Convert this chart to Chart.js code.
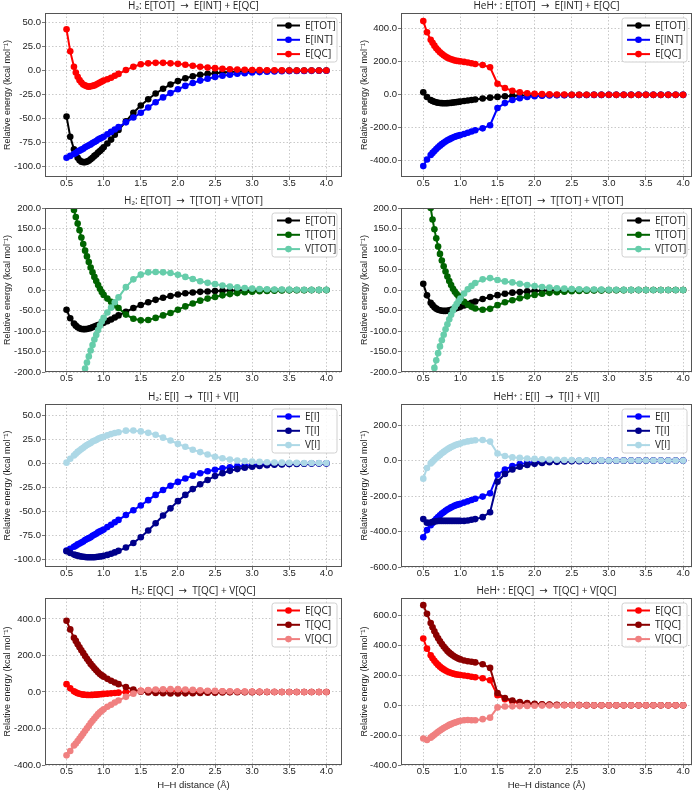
<!DOCTYPE html>
<html>
<head>
<meta charset="utf-8">
<script src="https://cdn.jsdelivr.net/npm/chart.js@4.4.0/dist/chart.umd.min.js"></script>
<style>
  html, body { margin: 0; padding: 0; background: #fff; }
  #page { position: relative; width: 700px; height: 791px; overflow: hidden; }
  #page canvas { position: absolute; }
</style>
</head>
<body>
<div id="page"></div>
<script>
// bond distance (Å), dense sampling near the minimum
var distance = [0.5, 0.55, 0.6, 0.625, 0.65, 0.675, 0.7, 0.725, 0.75, 0.775, 0.8, 0.825, 0.85, 0.875, 0.9, 0.925, 0.95, 0.975, 1.0, 1.05, 1.1, 1.15, 1.2, 1.3, 1.4,
    1.5, 1.6, 1.7, 1.8, 1.9, 2.0, 2.1, 2.2, 2.3, 2.4, 2.5, 2.6, 2.7, 2.8, 2.9, 3.0, 3.1, 3.2, 3.3, 3.4, 3.5, 3.6, 3.7, 3.8, 3.9, 4.0];
var xTicks = [0.5, 1.0, 1.5, 2.0, 2.5, 3.0, 3.5, 4.0];

// H2 (kcal/mol)
var h2_E_TOT = [-48, -69, -82, -87, -91, -93.5, -95, -95.5, -95.5, -95, -94, -92.5, -91, -89, -87.5, -85.5, -84, -82, -80, -76, -72, -67, -62, -53, -44,
    -36.5, -30, -24, -19, -14.5, -11, -8, -6, -4.5, -3.5, -2.7, -2, -1.5, -1.1, -0.8, -0.6, -0.4, -0.3, -0.2, -0.15, -0.1, -0.1, -0.1, 0, 0, 0];
var h2_E_INT = [-91, -89, -87, -86, -84.5, -83.5, -82.5, -81.5, -80, -79, -78, -77, -75.5, -74.5, -73.5, -72, -71, -70, -69, -66.5, -64, -61.5, -59, -54, -49,
    -44, -38.5, -33, -28, -23.5, -19.5, -16, -13, -10.5, -8.5, -6.8, -5.4, -4.3, -3.4, -2.7, -2.1, -1.6, -1.3, -1.0, -0.8, -0.6, -0.5, -0.4, -0.3, -0.2, -0.2];
var h2_E_QC = [43, 20, 4, -2, -6.5, -10, -12.5, -14.5, -15.5, -16.5, -16.8, -16.5, -16, -15.5, -14.5, -13.5, -12.5, -11.5, -10.5, -9, -7.5, -5.5, -3.5, 0.5, 4,
    6.5, 7.5, 8, 8, 7.5, 7, 6, 5, 4, 3.2, 2.5, 1.9, 1.4, 1, 0.7, 0.5, 0.4, 0.3, 0.2, 0.15, 0.1, 0.1, 0.1, 0.05, 0, 0];
var h2_T_TOT = [380, 270, 195, 178, 162, 146, 128, 112, 96, 82, 68, 55, 43, 32, 22, 12, 3, -5, -12, -21, -29, -37, -44, -60, -70,
    -74, -73, -68, -62, -56, -48, -40, -33, -26, -21, -17, -13, -10, -7.5, -5.5, -4, -3, -2.2, -1.6, -1.2, -0.9, -0.6, -0.5, -0.3, -0.2, -0.2];
var h2_V_TOT = [-428, -339, -277, -265, -253, -239.5, -223, -207.5, -191.5, -177, -162, -147.5, -134, -121, -109.5, -97.5, -87, -77, -68, -55, -43, -30, -18, 7, 26,
    37.5, 43, 44, 43, 41.5, 37, 32, 27, 21.5, 17.5, 14.3, 11, 8.5, 6.4, 4.7, 3.4, 2.6, 1.9, 1.4, 1.05, 0.8, 0.5, 0.4, 0.3, 0.2, 0.2];
var h2_T_I = [-91.5, -93.5, -95, -95.7, -96.2, -96.7, -97.1, -97.4, -97.6, -97.8, -97.9, -97.9, -97.9, -97.8, -97.6, -97.4, -97.1, -96.8, -96.4, -95.4, -94.2, -92.8, -91.2, -87.8, -83,
    -77, -70, -62.5, -54.5, -47, -39.5, -33, -27, -22, -17.5, -13.5, -10.5, -8, -6.2, -4.8, -3.7, -2.9, -2.2, -1.7, -1.3, -1.0, -0.8, -0.6, -0.5, -0.4, -0.3];
var h2_V_I = [0.5, 4.5, 8, 9.7, 11.7, 13.2, 14.6, 15.9, 17.6, 18.8, 19.9, 20.9, 22.4, 23.3, 24.1, 25.4, 26.1, 26.8, 27.4, 28.9, 30.2, 31.3, 32.2, 33.8, 34,
    33, 31.5, 29.5, 26.5, 23.5, 20, 17, 14, 11.5, 9, 6.7, 5.1, 3.7, 2.8, 2.1, 1.6, 1.3, 0.9, 0.7, 0.5, 0.4, 0.3, 0.2, 0.2, 0.2, 0.1];
var h2_T_QC = [390, 343, 297, 280, 262, 245, 229, 213, 197, 182, 168, 154, 142, 130, 119, 108, 99, 91, 84, 72, 62, 52, 43, 27, 13,
    2, -3, -5.5, -7, -8, -8.5, -7.5, -6.5, -5, -4, -3.5, -2.5, -2, -1.5, -1.1, -0.8, -0.6, -0.4, -0.3, -0.2, -0.2, -0.1, -0.1, 0, 0, 0];
var h2_V_QC = [-347, -323, -293, -282, -268.5, -255, -241.5, -227.5, -212.5, -198.5, -184.8, -170.5, -158, -145.5, -133.5, -121.5, -111.5, -102.5, -94.5, -81, -69.5, -57.5, -46.5, -26.5, -9,
    4.5, 10.5, 13.5, 15, 15.5, 15.5, 13.5, 11.5, 9, 7.2, 6, 4.4, 3.4, 2.5, 1.8, 1.3, 1.0, 0.7, 0.5, 0.35, 0.3, 0.2, 0.2, 0.1, 0.1, 0];

// HeH+ (kcal/mol)
var heh_E_TOT = [15, -13, -31, -37, -42, -45.5, -48, -49.5, -50.5, -51, -51, -50.5, -49.5, -48.5, -47, -45.5, -44, -42.5, -41, -37.5, -34, -31, -28, -22, -17,
    -12.5, -9, -6.5, -4.7, -3.4, -2.5, -1.8, -1.3, -1, -0.7, -0.5, -0.4, -0.3, -0.2, -0.2, -0.1, -0.1, -0.1, -0.1, 0, 0, 0, 0, 0, 0, 0];
var heh_E_INT = [-432, -392, -365, -352, -340, -328, -318, -308, -299, -291, -283, -276, -270, -264, -259, -254, -250, -247, -244, -237, -230, -222, -215, -203, -184,
    -80, -50, -31, -20, -13, -9, -6, -4, -2.8, -2, -1.4, -1, -0.7, -0.5, -0.3, -0.2, -0.1, -0.1, -0.1, 0, 0, 0, 0, 0, 0, 0];
var heh_E_QC = [447, 379, 334, 315, 298, 282.5, 270, 258.5, 248.5, 240, 232, 225.5, 220.5, 215.5, 212, 208.5, 206, 204.5, 203, 199.5, 196, 191, 187, 181, 167,
    67.5, 41, 24.5, 15.3, 9.6, 6.5, 4.2, 2.7, 1.8, 1.3, 0.9, 0.6, 0.4, 0.3, 0.1, 0.1, 0, 0, 0, 0, 0, 0, 0, 0, 0, 0];
var heh_T_TOT = [420, 290, 200, 172, 148, 126, 106, 88, 72, 58, 45, 33, 22, 12, 3, -4, -10, -15, -20, -29, -36, -41, -45, -48, -46,
    -37, -30, -25, -20, -15.5, -12, -9, -7, -5.3, -4, -3, -2.3, -1.7, -1.3, -1, -0.7, -0.5, -0.4, -0.3, -0.2, -0.2, -0.1, -0.1, -0.1, -0.1, 0];
var heh_V_TOT = [-405, -303, -231, -209, -190, -171.5, -154, -137.5, -122.5, -109, -96, -83.5, -71.5, -60.5, -50, -41.5, -34, -27.5, -21, -8.5, 2, 10, 17, 26, 29,
    24.5, 21, 18.5, 15.3, 12.1, 9.5, 7.2, 5.7, 4.3, 3.3, 2.5, 1.9, 1.4, 1.1, 0.8, 0.6, 0.4, 0.3, 0.2, 0.2, 0.1, 0.1, 0.1, 0.1, 0.1, 0];
var heh_T_I = [-330, -350, -349, -346, -344, -342, -341, -340, -340, -340, -340, -340, -340, -340, -340, -340, -340, -340, -340, -340, -338, -334, -330, -319, -291,
    -120, -76, -50, -35, -25, -18.5, -13.4, -9.8, -7.3, -5.5, -4.1, -3.1, -2.3, -1.7, -1.2, -0.9, -0.6, -0.5, -0.4, -0.3, -0.2, -0.1, -0.1, -0.1, 0, 0];
var heh_V_I = [-102, -42, -16, -6, 4, 14, 23, 32, 41, 49, 57, 64, 70, 76, 81, 86, 90, 93, 96, 103, 108, 112, 115, 116, 107,
    40, 26, 19, 15, 12, 9.5, 7.4, 5.8, 4.5, 3.5, 2.7, 2.1, 1.6, 1.2, 0.9, 0.7, 0.5, 0.4, 0.3, 0.2, 0.2, 0.1, 0.1, 0.1, 0, 0];
var heh_T_QC = [670, 612, 551, 522, 495, 470, 448, 428, 410, 393, 378, 364, 352, 342, 333, 325, 318, 312, 307, 300, 295, 291, 287, 274, 250,
    82, 49, 32, 21, 14, 9.5, 6.5, 4.5, 3, 2.1, 1.5, 1, 0.7, 0.5, 0.3, 0.2, 0.1, 0.1, 0, 0, 0, 0, 0, 0, 0, 0];
var heh_V_QC = [-223, -233, -217, -207, -197, -187.5, -178, -169.5, -161.5, -153, -146, -138.5, -131.5, -126.5, -121, -116.5, -112, -107.5, -104, -100.5, -99, -100, -100, -93, -83,
    -14.5, -8, -7.5, -5.7, -4.4, -3, -2.3, -1.8, -1.2, -0.8, -0.6, -0.4, -0.3, -0.2, -0.2, -0.1, -0.1, -0.1, 0, 0, 0, 0, 0, 0, 0, 0];

// y tick labels per panel
var yTicks_h2_E = [-100, -75, -50, -25, 0, 25, 50];
var yTicks_heh_E = [-400, -200, 0, 200, 400];
var yTicks_TOT = [-200, -150, -100, -50, 0, 50, 100, 150, 200];
var yTicks_h2_I = [-100, -75, -50, -25, 0, 25, 50];
var yTicks_heh_I = [-600, -400, -200, 0, 200];
var yTicks_h2_QC = [-400, -200, 0, 200, 400];
var yTicks_heh_QC = [-400, -200, 0, 200, 400, 600];


var fontFamily = "'Open Sans', 'DejaVu Sans', sans-serif";
var H2 = 'H\u2082', HEH = 'HeH\u207A ';
var ARROW = '  \u2192  ';

var panels = [
    { row: 0, col: 0, title: H2 + ': E[TOT]' + ARROW + 'E[INT] + E[QC]', y: [-111, 60], ticks: yTicks_h2_E,
        series: [['E[TOT]', h2_E_TOT, '#000000'], ['E[INT]', h2_E_INT, '#0000ff'], ['E[QC]', h2_E_QC, '#ff0000']] },
    { row: 0, col: 1, title: HEH + ': E[TOT]' + ARROW + 'E[INT] + E[QC]', y: [-498, 496], ticks: yTicks_heh_E,
        series: [['E[TOT]', heh_E_TOT, '#000000'], ['E[INT]', heh_E_INT, '#0000ff'], ['E[QC]', heh_E_QC, '#ff0000']] },
    { row: 1, col: 0, title: H2 + ': E[TOT]' + ARROW + 'T[TOT] + V[TOT]', y: [-200, 200], ticks: yTicks_TOT,
        series: [['E[TOT]', h2_E_TOT, '#000000'], ['T[TOT]', h2_T_TOT, '#006400'], ['V[TOT]', h2_V_TOT, '#66cdaa']] },
    { row: 1, col: 1, title: HEH + ': E[TOT]' + ARROW + 'T[TOT] + V[TOT]', y: [-200, 200], ticks: yTicks_TOT,
        series: [['E[TOT]', heh_E_TOT, '#000000'], ['T[TOT]', heh_T_TOT, '#006400'], ['V[TOT]', heh_V_TOT, '#66cdaa']] },
    { row: 2, col: 0, title: H2 + ': E[I]' + ARROW + 'T[I] + V[I]', y: [-108, 61.5], ticks: yTicks_h2_I,
        series: [['E[I]', h2_E_INT, '#0000ff'], ['T[I]', h2_T_I, '#00008b'], ['V[I]', h2_V_I, '#add8e6']] },
    { row: 2, col: 1, title: HEH + ': E[I]' + ARROW + 'T[I] + V[I]', y: [-600, 319], ticks: yTicks_heh_I,
        series: [['E[I]', heh_E_INT, '#0000ff'], ['T[I]', heh_T_I, '#00008b'], ['V[I]', heh_V_I, '#add8e6']] },
    { row: 3, col: 0, title: H2 + ': E[QC]' + ARROW + 'T[QC] + V[QC]', y: [-400, 515], ticks: yTicks_h2_QC,
        series: [['E[QC]', h2_E_QC, '#ff0000'], ['T[QC]', h2_T_QC, '#8b0000'], ['V[QC]', h2_V_QC, '#f08080']] },
    { row: 3, col: 1, title: HEH + ': E[QC]' + ARROW + 'T[QC] + V[QC]', y: [-400, 718], ticks: yTicks_heh_QC,
        series: [['E[QC]', heh_E_QC, '#ff0000'], ['T[QC]', heh_T_QC, '#8b0000'], ['V[QC]', heh_V_QC, '#f08080']] }
];

// page layout
var rowTop = [0, 195, 391, 585];
var rowHeight = [195, 195, 195, 206];
var frameHeight = [164, 164, 163, 167];
var axisWidth = [45, 51];
var yTitlePad = [2, 9.6];
var xRange = [[0.21, 4.21], [0.2, 4.12]];
var xTitle = ['H\u2013H distance (\u00C5)', 'He\u2013H distance (\u00C5)'];
var gridColor = 'rgba(170,170,170,0.8)';


var framePlugin = {
    id: 'frameLegend',
    afterDatasetsDraw: function (chart) {
        var a = chart.chartArea;
        var ctx = chart.ctx;
        ctx.save();
        ctx.strokeStyle = '#555';
        ctx.lineWidth = 1;
        ctx.strokeRect(Math.round(a.left) + 0.5, Math.round(a.top) + 0.5,
            Math.round(a.right - a.left) - 1, Math.round(a.bottom - a.top) - 1);
        ctx.restore();
    },
    afterDraw: function (chart) {
        var a = chart.chartArea;
        var ctx = chart.ctx;
        var sets = chart.data.datasets;
        var w = 65, h = 44;
        var bx = a.right - 5 - w, by = a.top + 5;

        ctx.save();
        // title
        ctx.fillStyle = '#222';
        ctx.font = '10px ' + fontFamily;
        ctx.textAlign = 'center';
        ctx.textBaseline = 'middle';
        ctx.fillText(chart.options.panelTitle, (a.left + a.right) / 2, a.top - 7);

        // legend box
        var r = 2.5;
        ctx.beginPath();
        ctx.moveTo(bx + r, by);
        ctx.lineTo(bx + w - r, by);
        ctx.arcTo(bx + w, by, bx + w, by + r, r);
        ctx.lineTo(bx + w, by + h - r);
        ctx.arcTo(bx + w, by + h, bx + w - r, by + h, r);
        ctx.lineTo(bx + r, by + h);
        ctx.arcTo(bx, by + h, bx, by + h - r, r);
        ctx.lineTo(bx, by + r);
        ctx.arcTo(bx, by, bx + r, by, r);
        ctx.closePath();
        ctx.fillStyle = 'rgba(255,255,255,0.85)';
        ctx.fill();
        ctx.strokeStyle = '#d0d0d0';
        ctx.lineWidth = 1;
        ctx.stroke();

        ctx.font = '10px ' + fontFamily;
        ctx.textAlign = 'left';
        sets.forEach(function (ds, i) {
            var y = by + 7.5 + i * 14.3;
            ctx.strokeStyle = ds.borderColor;
            ctx.lineWidth = 2;
            ctx.beginPath();
            ctx.moveTo(bx + 5, y);
            ctx.lineTo(bx + 28, y);
            ctx.stroke();
            ctx.fillStyle = ds.borderColor;
            ctx.beginPath();
            ctx.arc(bx + 16.5, y, 3.3, 0, Math.PI * 2);
            ctx.fill();
            ctx.fillStyle = '#222';
            ctx.fillText(ds.label, bx + 33, y + 0.5);
        });
        ctx.restore();
    }
};


var page = document.getElementById('page');

panels.forEach(function (p) {
    var canvas = document.createElement('canvas');
    canvas.width = 350;
    canvas.height = rowHeight[p.row];
    canvas.style.left = (p.col * 350) + 'px';
    canvas.style.top = rowTop[p.row] + 'px';
    page.appendChild(canvas);

    var xAxisHeight = rowHeight[p.row] - 13 - frameHeight[p.row];
    var last = p.row == 3;

    var sets = p.series.map(function (s, idx) {
        return {
            'label': s[0],
            'data': distance.map(function (x, i) {
                return { x: x, y: s[1][i] };
            }),
            'borderColor': s[2],
            'backgroundColor': s[2],
            'pointBackgroundColor': s[2],
            'order': 3 - idx,
        };
    });

    new Chart(canvas.getContext('2d'), {
        type: 'line',
        data: { 'datasets': sets },
        plugins: [framePlugin],
        options: {
            panelTitle: p.title,
            responsive: false,
            animation: false,
            devicePixelRatio: 1,
            layout: { padding: { top: 13, right: 8, left: 0, bottom: 0 } },
            plugins: {
                legend: { display: false },
                tooltip: { enabled: false },
            },
            elements: {
                line: { tension: 0, borderWidth: 2 },
                point: { radius: 3.3, borderWidth: 0, hoverRadius: 3.3 },
            },
            scales: {
                x: {
                    type: 'linear',
                    min: xRange[p.col][0],
                    max: xRange[p.col][1],
                    afterBuildTicks: function (s) {
                        s.ticks = xTicks.map(function (v) { return { value: v }; });
                    },
                    afterFit: function (s) { s.height = xAxisHeight; },
                    grid: { color: gridColor, lineWidth: 0.8, tickLength: 3, tickColor: '#555', tickWidth: 0.8 },
                    border: { display: false, dash: [1.5, 2] },
                    ticks: {
                        padding: -2, color: '#222', font: { size: 9.5 }, maxRotation: 0, autoSkip: false,
                        callback: function (v) { return v.toFixed(1); },
                    },
                    title: {
                        display: last, text: xTitle[p.col], color: '#222',
                        font: { size: 9.5 }, padding: { top: 0, bottom: 0.3 },
                    },
                },
                y: {
                    min: p.y[0],
                    max: p.y[1],
                    afterBuildTicks: function (s) {
                        s.ticks = p.ticks.map(function (v) { return { value: v }; });
                    },
                    afterFit: function (s) { s.width = axisWidth[p.col]; },
                    grid: { color: gridColor, lineWidth: 0.8, tickLength: 3, tickColor: '#555', tickWidth: 0.8 },
                    border: { display: false, dash: [1.5, 2] },
                    ticks: {
                        padding: 1, color: '#222', font: { size: 9.5 },
                        callback: function (v) { return v.toFixed(1); },
                    },
                    title: {
                        display: true, text: 'Relative energy (kcal mol\u207B\u00B9)', color: '#222',
                        font: { size: 9 }, padding: { top: yTitlePad[p.col], bottom: 0 },
                    },
                },
            },
        },
    });
});
</script>
</body>
</html>
